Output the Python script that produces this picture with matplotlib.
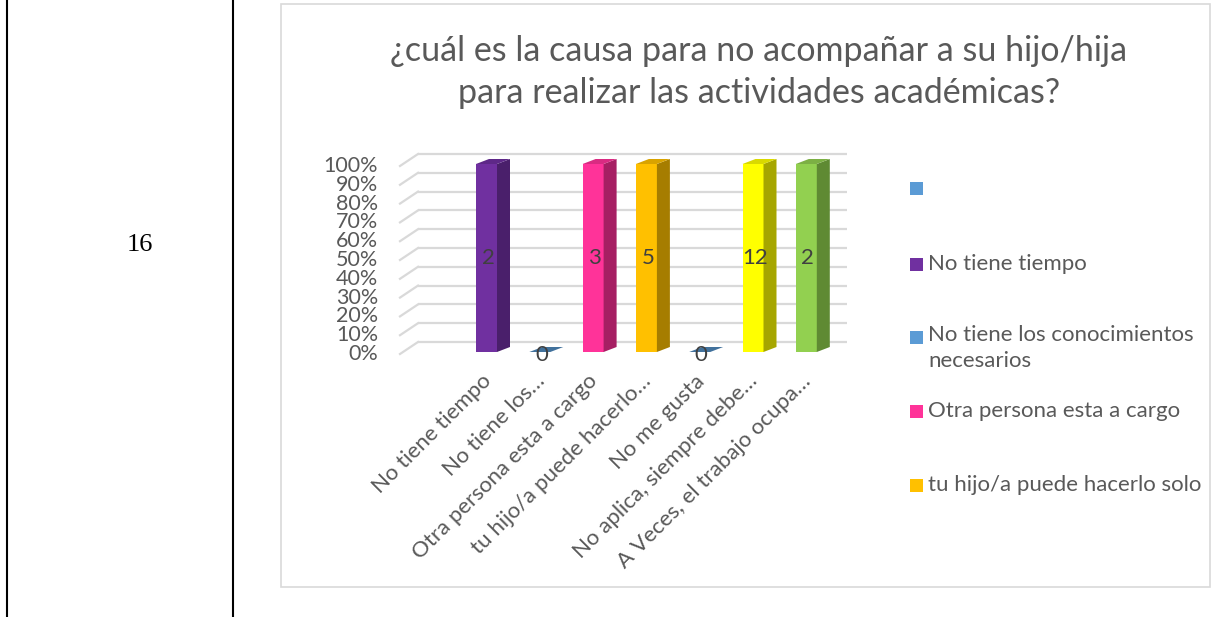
import matplotlib
matplotlib.use("Agg")
import matplotlib.pyplot as plt
from matplotlib.patches import Polygon, Rectangle
from matplotlib.lines import Line2D
import numpy as np

plt.rcParams['font.family'] = ['Lato', 'DejaVu Sans']

# ---- data ----
title = "¿cuál es la causa para no acompañar a su hijo/hija\npara realizar las actividades académicas?"
categories = ["No tiene tiempo", "No tiene los…", "Otra persona esta a cargo",
              "tu hijo/a puede hacerlo…", "No me gusta", "No aplica, siempre debe…",
              "A Veces, el trabajo ocupa…"]
values = [2, 0, 3, 5, 0, 12, 2]
bar_colors = ["#7030A0", "#5B9BD5", "#FF3399", "#FFC000", "#5B9BD5", "#FFFF00", "#92D050"]
side_colors = ["#4A1F6B", "#3F6F9E", "#A61F63", "#A67D00", "#3F6F9E", "#A6A600", "#5F8A33"]
top_colors = ["#5E2888", "#41719C", "#D92B82", "#D9A300", "#41719C", "#D9D900", "#7CB044"]
yticks = [0, 10, 20, 30, 40, 50, 60, 70, 80, 90, 100]
legend_labels = ["", "No tiene tiempo", "No tiene los conocimientos\nnecesarios",
                 "Otra persona esta a cargo", "tu hijo/a puede hacerlo solo"]
legend_colors = ["#5B9BD5", "#7030A0", "#5B9BD5", "#FF3399", "#FFC000"]
row_number = "16"

W, H = 1217, 617
fig = plt.figure(figsize=(W / 100, H / 100), dpi=100)
fig.patch.set_facecolor("white")

def fx(px):
    return px / W
def fy(py):
    return 1 - py / H

# table lines and chart frame
fig.add_artist(Line2D([fx(7), fx(7)], [0, 1], color="black", lw=1.5))
fig.add_artist(Line2D([fx(233), fx(233)], [0, 1], color="black", lw=1.5))
fig.add_artist(Rectangle((fx(281), fy(587)), fx(1210) - fx(281), fy(4) - fy(587),
                         fill=False, edgecolor="#D9D9D9", lw=1.2))
fig.text(fx(140), fy(245), row_number, fontsize=19, family=["Liberation Serif", "DejaVu Serif"],
         ha="center", va="center", color="black")

# ---- plot axes ----
L, R, T, B = 380, 870, 140, 370
ax = fig.add_axes([fx(L), fy(B), (R - L) / W, (B - T) / H])
pxu = 53.3
pyu = 1.88
x0 = (L - 486.5) / pxu
x1 = (R - 486.5) / pxu
y0 = (352 - B) / pyu
y1 = (352 - T) / pyu
ax.set_xlim(x0, x1)
ax.set_ylim(y0, y1)
ax.axis("off")

# back wall gridlines and side wall
wall_dx = 18 / pxu
wall_dy = 10 / pyu
xl_front = (400 - 486.5) / pxu
xl_back = xl_front + wall_dx
xr_back = (847 - 486.5) / pxu
grid_c = "#D9D9D9"
for t in yticks:
    yb = t + wall_dy
    ax.plot([xl_back, xr_back], [yb, yb], color=grid_c, lw=1.6, zorder=1,
            solid_capstyle="butt")
    ax.plot([xl_front, xl_back], [t - 2 / pyu, yb], color=grid_c, lw=1.6, zorder=1)
    ax.text((378 - 486.5) / pxu, t - 2 / pyu, f"{t}%", ha="right", va="center",
            fontsize=15.5, color="#595959")

# bars (100% stacked: each category's value as share of its total)
totals = np.array(values, dtype=float)
pct = np.where(totals > 0, 100 * np.array(values) / np.where(totals > 0, totals, 1), 0)
bw = 21 / pxu
dx = 13 / pxu
dy = 5 / pyu
xs = np.arange(len(categories))
ax.bar(xs, pct, width=bw, color=bar_colors, zorder=3, linewidth=0)
for i, p in enumerate(pct):
    xl = i - bw / 2
    xr = i + bw / 2
    if p > 0:
        ax.add_patch(Polygon([(xr, 0), (xr + dx, dy), (xr + dx, p + dy), (xr, p)],
                             closed=True, facecolor=side_colors[i], edgecolor="none", zorder=3))
        ax.add_patch(Polygon([(xl, p), (xr, p), (xr + dx, p + dy), (xl + dx, p + dy)],
                             closed=True, facecolor=top_colors[i], edgecolor="none", zorder=3))
        ax.text(i + 0.03, p / 2, str(values[i]), ha="center", va="center",
                fontsize=16, color="#404040", zorder=5)
    else:
        ax.add_patch(Polygon([(xl, 0), (xr, 0), (xr + dx, dy), (xl + dx, dy)],
                             closed=True, facecolor=top_colors[i], edgecolor="none", zorder=3))
        ax.text(i + 0.03, -1.5, str(values[i]), ha="center", va="center",
                fontsize=16, color="#404040", zorder=5)

# category labels rotated 45
for i, c in enumerate(categories):
    ax.text(i + 0.03, (352 - 378) / pyu, c, rotation=45, rotation_mode="anchor",
            ha="right", va="center", fontsize=16, color="#595959", clip_on=False)

# title
fig.text(fx(759), fy(72), title, ha="center", va="center", fontsize=24.5,
         color="#595959", linespacing=1.38)

# legend (manual)
leg_y = [189, 264, 337, 411, 485]
for lab, col, y in zip(legend_labels, legend_colors, leg_y):
    fig.add_artist(Rectangle((fx(910), fy(y + 6.5)), 13 / W, 13 / H,
                             facecolor=col, edgecolor="none"))
    if not lab:
        continue
    if "\n" in lab:
        fig.text(fx(928), fy(y - 12), lab, ha="left", va="top", fontsize=16,
                 color="#595959", linespacing=1.4)
    else:
        fig.text(fx(928), fy(y), lab, ha="left", va="center", fontsize=16,
                 color="#595959")

fig.savefig("out.png", dpi=100, facecolor="white")
